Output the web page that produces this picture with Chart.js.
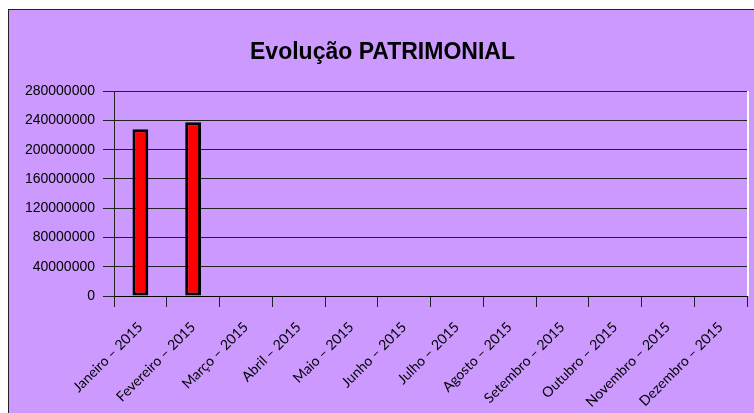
<!DOCTYPE html>
<html>
<head>
<meta charset="utf-8">
<script src="https://cdn.jsdelivr.net/npm/chart.js@4"></script>
<style>
  html, body { margin: 0; padding: 0; background: #fff; }
  #frame {
    position: absolute; left: 8px; top: 9px;
    width: 746px; height: 404px;
    background: #cc99ff;
    border-left: 1px solid #222; border-top: 1px solid #222;
  }
  #chart { display: block; }
</style>
</head>
<body>
<div id="frame"><canvas id="chart" width="745" height="403"></canvas></div>
<script>
// Evolução patrimonial — one bar per month, only Jan/Feb filled
const months = [
    'Janeiro – 2015', 'Fevereiro – 2015', 'Março – 2015', 'Abril – 2015',
    'Maio – 2015', 'Junho – 2015', 'Julho – 2015', 'Agosto – 2015',
    'Setembro – 2015', 'Outubro – 2015', 'Novembro – 2015', 'Dezembro – 2015'
];
const patrimonio = [228000000, 237500000, null, null, null, null, null, null, null, null, null, null];
const yMax = 280000000;
const yStep = 40000000;

// white right edge of the plot area, like the Excel original
const plotEdge = {
    id: 'plotEdge',
    afterDraw(chart) {
        const { ctx, chartArea } = chart;
        ctx.save();
        ctx.strokeStyle = '#ffffff';
        ctx.lineWidth = 2;
        ctx.beginPath();
        ctx.moveTo(chartArea.right + 1, chartArea.top);
        ctx.lineTo(chartArea.right + 1, chartArea.bottom);
        ctx.stroke();
        ctx.restore();
    }
};

new Chart(document.getElementById('chart').getContext('2d'), {
    type: 'bar',
    data: {
        labels: months,
        datasets: [{
            label: 'Patrimônio',
            data: patrimonio,
            backgroundColor: '#ff0000',
            borderColor: '#000000',
            borderWidth: 3,
            borderSkipped: false,
            barPercentage: 0.6,
            categoryPercentage: 0.5,
        }]
    },
    options: {
        responsive: false,
        animation: false,
        layout: { padding: { left: 9, right: 7, top: 0, bottom: 0 } },
        plugins: {
            legend: { display: false },
            tooltip: { enabled: false },
            title: {
                display: true,
                text: 'Evolução PATRIMONIAL',
                color: '#000',
                font: { family: 'Liberation Sans', size: 23, weight: 'bold' },
                padding: { top: 29, bottom: 24.5 }
            }
        },
        scales: {
            x: {
                offset: true,
                grid: { offset: true, drawOnChartArea: false, tickLength: 11, color: '#222' },
                border: { color: '#000', width: 1 },
                ticks: {
                    color: '#000',
                    font: { family: 'Lato', size: 14 },
                    minRotation: 45, maxRotation: 45,
                    padding: 12,
                    autoSkip: false
                },
                afterFit: s => { s.height = 117; }
            },
            y: {
                min: 0, max: yMax,
                grid: { color: '#222', tickLength: 11 },
                border: { color: '#222', width: 1 },
                ticks: {
                    stepSize: yStep,
                    color: '#000',
                    font: { family: 'Liberation Sans', size: 14 },
                    padding: 8,
                    callback: v => String(v)
                },
                afterFit: s => { s.width = 96; }
            }
        }
    },
    plugins: [plotEdge]
});
</script>
</body>
</html>
